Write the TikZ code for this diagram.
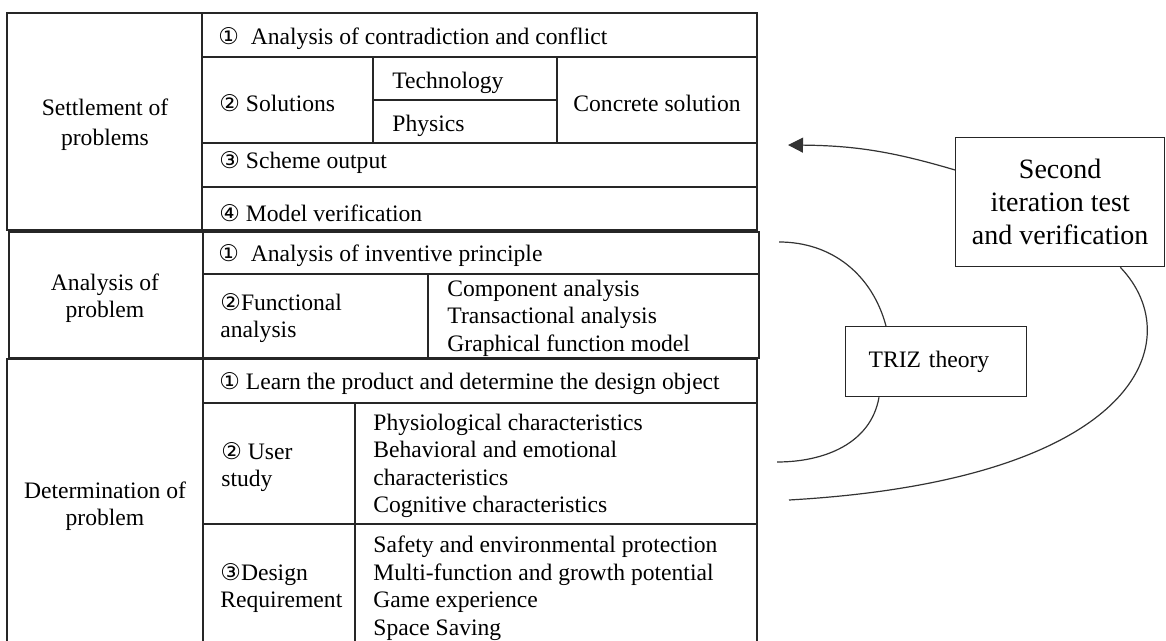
\documentclass[tikz,border=0pt]{standalone}
\usepackage{fontspec}
\setmainfont{Liberation Serif}
\newfontfamily\circfont{DejaVu Sans}
\usetikzlibrary{arrows.meta}
\newcommand{\tabfont}{\fontsize{11.8}{13.75}\selectfont}
\newcommand{\cnum}[1]{{\circfont\fontsize{11.5}{10}\selectfont#1}}
\tikzset{
	grid/.style={line width=0.65pt, draw=black!85},
	cell/.style={inner sep=0pt, anchor=west, align=left, font=\tabfont},
	head/.style={inner sep=0pt, align=center, font=\tabfont},
	sidebox/.style={draw=black!85, line width=0.65pt},
	link/.style={line width=0.6pt, draw=black!80}
}
\begin{document}
\begin{tikzpicture}[x=0.5pt, y=-0.5pt]
		\useasboundingbox (0,0) rectangle (1166,641);
		% settlement of problems
		\draw[grid] (7,13) rectangle (757,230);
		\draw[grid] (202,13) -- (202,230);
		\draw[grid] (202,57) -- (757,57);
		\draw[grid] (202,143) -- (757,143);
		\draw[grid] (202,187) -- (757,187);
		\draw[grid] (373,57) -- (373,143);
		\draw[grid] (557,57) -- (557,143);
		\draw[grid] (373,100) -- (557,100);
		\node[head, font=\fontsize{11.8}{15}\selectfont] (settle) at (105,125) {Settlement of\\problems};
		\node[cell] (contra) at (218,39) {\cnum{①}~~Analysis of contradiction and conflict};
		\node[cell] (solu) at (219,103) {\cnum{②} Solutions};
		\node[cell] (tech) at (392,83) {Technology};
		\node[cell] (phys) at (392,126) {Physics};
		\node[head] (concrete) at (657,103) {Concrete solution};
		\node[cell] (scheme) at (219,163) {\cnum{③} Scheme output};
		\node[cell] (verif) at (219,213) {\cnum{④} Model verification};
		
		% analysis of problem
		\draw[grid] (9,232) rectangle (759,358);
		\draw[grid] (203,232) -- (203,358);
		\draw[grid] (203,274) -- (759,274);
		\draw[grid] (428,274) -- (428,358);
		\node[head] (analysis) at (105,298) {Analysis of\\problem};
		\node[cell] (invent) at (218,256) {\cnum{①}~~Analysis of inventive principle};
		\node[cell] (func) at (220,318) {\cnum{②}Functional\\analysis};
		\node[cell] (funclist) at (447,318) {Component analysis\\Transactional analysis\\Graphical function model};
		
		% determination of problem
		\draw[grid] (7,641) -- (7,359) -- (757,359) -- (757,641);
		\draw[grid] (203,359) -- (203,641);
		\draw[grid] (203,403) -- (757,403);
		\draw[grid] (203,524) -- (757,524);
		\draw[grid] (355,403) -- (355,641);
		\node[head] (determ) at (105,506) {Determination of\\problem};
		\node[cell] (learn) at (219,384) {\cnum{①} Learn the product and determine the design object};
		\node[cell] (user) at (221,467) {\cnum{②} User\\study};
		\node[cell] (userlist) at (373,466) {Physiological characteristics\\Behavioral and emotional\\characteristics\\Cognitive characteristics};
		\node[cell] (design) at (220,588) {\cnum{③}Design\\Requirement};
		\node[cell] (designlist) at (373,588) {Safety and environmental protection\\Multi-function and growth potential\\Game experience\\Space Saving};
		
		% side boxes and curves
		\node[sidebox, anchor=north west, minimum width=104.5pt, minimum height=64.5pt, align=center, inner sep=0pt,
			font=\fontsize{14}{16.5}\selectfont] (second) at (955,137) {Second\\iteration test\\and verification};
		\node[sidebox, anchor=north west, text width=67.5pt, inner xsep=11.5pt, inner ysep=0pt, minimum height=35pt,
			align=left, font=\tabfont] (triz) at (845,326) {TRIZ theory};
		\coordinate (back) at (788,145);
		\coordinate (inA) at (779,242);
		\coordinate (inB) at (777,462);
		\coordinate (outB) at (789,500);
		\draw[link, -{Triangle[length=7.5pt, width=7.5pt]}] ([yshift=-16.5pt]second.north west) to[bend right=8] (back);
		\draw[link] (inA) to[out=0, in=105] ([xshift=20.5pt]triz.north west);
		\draw[link] ([xshift=17pt]triz.south west) to[out=-100, in=0] (inB);
		\draw[link] ([xshift=-22.5pt]second.south east) .. controls (1190,340) and (1140,480) .. (outB);
	\end{tikzpicture}
\end{document}
